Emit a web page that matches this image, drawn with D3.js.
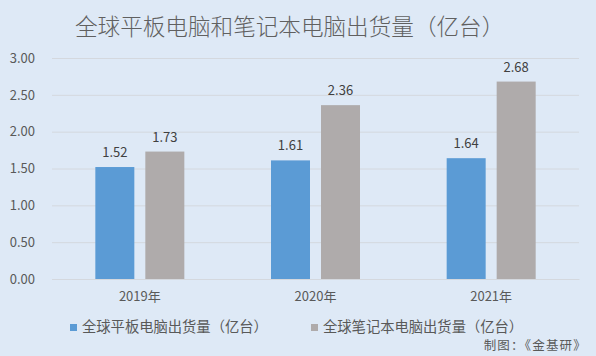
<!DOCTYPE html>
<html><head><meta charset="utf-8">
<script src="https://cdn.jsdelivr.net/npm/d3@7"></script>
<style>body{margin:0;background:#dee9f6;}svg{display:block;}</style>
</head><body>
<svg id="c" width="596" height="356"></svg>
<script>
const categories = ["2019年", "2020年", "2021年"];
const seriesNames = ["全球平板电脑出货量（亿台）", "全球笔记本电脑出货量（亿台）"];
const tablets = [1.52, 1.61, 1.64];
const laptops = [1.73, 2.36, 2.68];
const yTicks = [0, 0.5, 1, 1.5, 2, 2.5, 3];
const colors = ["#5b9bd5", "#afabab"];
const title = "全球平板电脑和笔记本电脑出货量（亿台）";
const source = "制图：《金基研》";

(function(){
const svg = d3.select("#c");
const font = "'Noto Sans CJK SC', 'Microsoft YaHei', sans-serif";
svg.append("rect").attr("width",596).attr("height",356).attr("fill","#dee9f6");

const pl = 52, pr = 579, pt = 58, pb = 279;
const y = d3.scaleLinear().domain([0,3]).range([pb, pt]);
const x = d3.scaleBand().domain(categories).range([pl, pr]);
const x1 = d3.scaleBand().domain([0,1]).range([0, 89]).paddingInner(0.22);

svg.append("text").attr("x", 75).attr("y", 35).attr("font-family", font)
  .attr("font-size", 22.6).attr("font-weight", 300).attr("fill", "#606060").text(title);

const yAxis = d3.axisLeft(y).tickValues(yTicks).tickFormat(d3.format(".2f"))
  .tickSize(-(pr-pl)).tickPadding(17);
const gy = svg.append("g").attr("transform", `translate(${pl},0)`).call(yAxis);
gy.select(".domain").remove();
gy.selectAll(".tick line").attr("stroke", "#d4d8de").attr("stroke-width", 1);
gy.selectAll(".tick text").attr("font-family", font).attr("font-size", 13).attr("fill", "#595959");

const xAxis = d3.axisBottom(x).tickSize(0).tickPadding(13);
const gx = svg.append("g").attr("transform", `translate(0,${pb})`).call(xAxis);
gx.select(".domain").attr("stroke", "#d4d8de");
gx.selectAll(".tick text").attr("font-family", font).attr("font-size", 13).attr("fill", "#595959");

const series = [tablets, laptops];
series.forEach((vals, si) => {
  const g = svg.append("g");
  g.selectAll("rect").data(vals).join("rect")
    .attr("x", (d,i) => x(categories[i]) + x.bandwidth()/2 - 44.5 + x1(si))
    .attr("width", x1.bandwidth())
    .attr("y", d => y(d)).attr("height", d => y(0) - y(d))
    .attr("fill", colors[si]);
  g.selectAll("text").data(vals).join("text")
    .attr("x", (d,i) => x(categories[i]) + x.bandwidth()/2 - 44.5 + x1(si) + x1.bandwidth()/2)
    .attr("y", d => y(d) - 10)
    .attr("text-anchor", "middle").attr("font-family", font).attr("font-size", 13)
    .attr("fill", "#404040").text(d => d3.format(".2f")(d));
});

const legX = [70, 311];
seriesNames.forEach((n, i) => {
  svg.append("rect").attr("x", legX[i]).attr("y", 324).attr("width", 7).attr("height", 7).attr("fill", colors[i]);
  svg.append("text").attr("x", legX[i] + 12).attr("y", 332).attr("font-family", font)
    .attr("font-size", 14.3).attr("fill", "#595959").text(n);
});

svg.append("text").attr("x", 587).attr("y", 350).attr("text-anchor", "end")
  .attr("font-family", font).attr("font-size", 12.5).attr("letter-spacing", 1.2)
  .attr("fill", "#595959").text(source);
})();
</script>
</body></html>
